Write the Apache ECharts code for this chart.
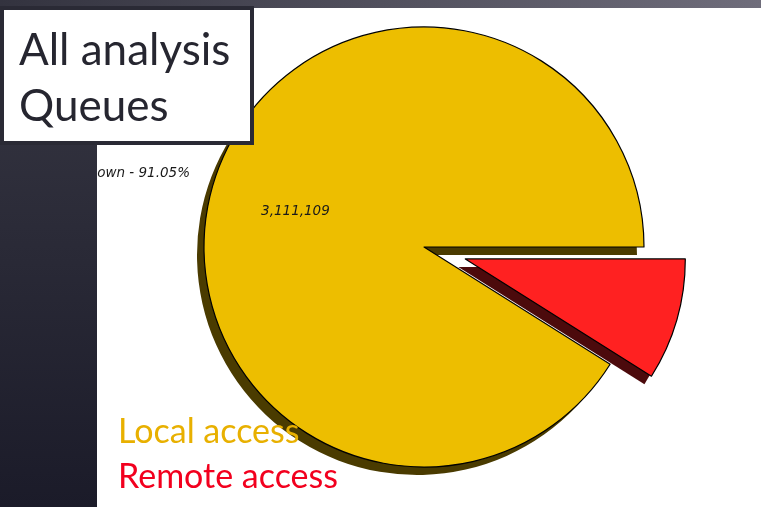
<!DOCTYPE html>
<html>
<head>
<meta charset="utf-8">
<style>
  html, body { margin: 0; padding: 0; background: #ffffff; }
  #chart { width: 761px; height: 507px; }
</style>
<script src="https://cdn.jsdelivr.net/npm/echarts@6/dist/echarts.min.js"></script>
</head>
<body>
<div id="chart"></div>
<script>
// Queue access split (jobs)
const categories = ['Remote access', 'Local access'];
const jobCounts = [305814, 3111109];
const sliceColors = ['#FF2121', '#EDBE00'];
const shadowColors = ['#4C0A0C', '#4A3B00'];
const legendColors = ['#F2001E', '#E8B000'];
const sliceTags = ['Known', 'Unknown'];
const titleLines = ['All analysis', 'Queues'];

const total = jobCounts.reduce((a, b) => a + b, 0);
const pct = jobCounts.map(v => (v / total * 100).toFixed(2));
const fmt = v => v.toLocaleString('en-US');

const chart = echarts.init(document.getElementById('chart'), null, { renderer: 'canvas' });

const CX = 424, CY = 247, R = 220;
const SHADOW_DX = -7, SHADOW_DY = 8;

// shared pie geometry for the drop-shadow layer and the face layer
const pieBase = {
  type: 'pie',
  radius: R,
  startAngle: 0,
  clockwise: true,
  selectedMode: 'single',
  selectedOffset: 43,
  silent: true,
  emphasis: { disabled: true, scale: false },
  labelLine: { show: false }
};

const shadowData = categories.map((name, i) => ({
  name: name,
  value: jobCounts[i],
  selected: i === 0,
  itemStyle: { color: shadowColors[i] }
}));

const faceData = categories.map((name, i) => ({
  name: name,
  value: jobCounts[i],
  selected: i === 0,
  itemStyle: { color: sliceColors[i] },
  label: { show: i === 1 }
}));

chart.setOption({
  animation: false,
  backgroundColor: '#ffffff',
  legend: {
    orient: 'vertical',
    left: 113,
    top: 412,
    padding: 0,
    itemWidth: 0,
    itemHeight: 0,
    itemGap: 4,
    selectedMode: false,
    itemStyle: { opacity: 0 },
    textStyle: { fontFamily: 'Lato', fontSize: 34, lineHeight: 41 },
    data: [
      { name: categories[1], textStyle: { color: legendColors[1] } },
      { name: categories[0], textStyle: { color: legendColors[0] } }
    ]
  },
  series: [
    Object.assign({}, pieBase, {
      z: 1,
      center: [CX + SHADOW_DX, CY + SHADOW_DY],
      itemStyle: { borderWidth: 0 },
      label: { show: false },
      data: shadowData
    }),
    Object.assign({}, pieBase, {
      z: 2,
      center: [CX, CY],
      itemStyle: { borderColor: '#000000', borderWidth: 1.2 },
      label: {
        position: 'inside',
        formatter: p => fmt(p.value),
        fontFamily: 'DejaVu Sans',
        fontStyle: 'italic',
        fontSize: 13.5,
        color: '#1a1a1a'
      },
      labelLayout: { dx: -20, dy: -4 },
      data: faceData
    })
  ],
  graphic: [
    {
      type: 'text',
      z: 50,
      style: {
        x: 190, y: 173,
        text: sliceTags[1] + ' - ' + pct[1] + '%',
        align: 'right',
        verticalAlign: 'middle',
        font: 'italic 13.5px "DejaVu Sans"',
        fill: '#1a1a1a'
      }
    },
    {
      type: 'rect',
      z: 100,
      shape: { x: 0, y: 0, width: 97, height: 507 },
      style: {
        fill: new echarts.graphic.LinearGradient(0, 0, 0, 1, [
          { offset: 0, color: '#383844' },
          { offset: 1, color: '#1b1b29' }
        ])
      }
    },
    {
      type: 'rect',
      z: 100,
      shape: { x: 0, y: 0, width: 761, height: 8 },
      style: {
        fill: new echarts.graphic.LinearGradient(0, 0, 1, 0, [
          { offset: 0, color: '#33333f' },
          { offset: 1, color: '#6f6d7b' }
        ])
      }
    },
    {
      type: 'rect',
      z: 110,
      shape: { x: 2, y: 8, width: 250, height: 135 },
      style: { fill: '#ffffff', stroke: '#2a2a35', lineWidth: 4 }
    },
    {
      type: 'text',
      z: 120,
      style: {
        x: 19, y: 23,
        text: titleLines.join('\n'),
        font: '44px Lato',
        lineHeight: 56,
        fill: '#262630'
      }
    }
  ]
});
</script>
</body>
</html>
